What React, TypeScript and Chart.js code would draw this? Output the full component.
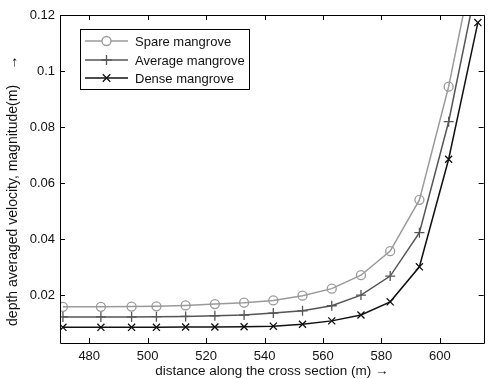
import React, { useEffect, useRef } from "react";
import { Chart, registerables } from "chart.js";

Chart.register(...registerables);

const distances = [471, 484, 494.5, 503, 513, 523, 533, 543, 553, 563, 573, 583, 593, 603, 613];
const spareMangrove = [0.0158, 0.0158, 0.0159, 0.016, 0.0163, 0.0168, 0.0173, 0.0181, 0.0198, 0.0223, 0.0271, 0.0357, 0.054, 0.0944, 0.146];
const averageMangrove = [0.0122, 0.0122, 0.0122, 0.0123, 0.0124, 0.0126, 0.0129, 0.0136, 0.0144, 0.0162, 0.02, 0.0268, 0.0423, 0.0819, 0.133];
const denseMangrove = [0.0085, 0.0085, 0.0085, 0.0085, 0.0086, 0.0086, 0.0087, 0.0089, 0.0096, 0.0108, 0.0129, 0.0176, 0.0301, 0.0685, 0.1173];
const seriesNames = ["Spare mangrove", "Average mangrove", "Dense mangrove"];
const xTicks = [480, 500, 520, 540, 560, 580, 600];
const yTicks = [0.02, 0.04, 0.06, 0.08, 0.1, 0.12];

const FONT = "'Liberation Sans', Arial, sans-serif";

function drawMarker(ctx: CanvasRenderingContext2D, style: string, x: number, y: number, r: number, color: string) {
  ctx.save();
  ctx.strokeStyle = color;
  ctx.lineWidth = 1.3;
  ctx.beginPath();
  if (style === "circle") {
    ctx.fillStyle = "#fff";
    ctx.arc(x, y, r, 0, Math.PI * 2);
    ctx.fill();
  } else if (style === "cross") {
    ctx.moveTo(x - r, y);
    ctx.lineTo(x + r, y);
    ctx.moveTo(x, y - r);
    ctx.lineTo(x, y + r);
  } else {
    const d = r * 0.75;
    ctx.moveTo(x - d, y - d);
    ctx.lineTo(x + d, y + d);
    ctx.moveTo(x + d, y - d);
    ctx.lineTo(x - d, y + d);
  }
  ctx.stroke();
  ctx.restore();
}

const framePlugin = {
  id: "framePlugin",
  afterDraw(chart: any) {
    const { ctx, chartArea } = chart;
    const { left, right, top, bottom } = chartArea;
    const xs = chart.scales.x;
    const ys = chart.scales.y;
    ctx.save();
    ctx.strokeStyle = "#000";
    ctx.lineWidth = 1;
    ctx.beginPath();
    ctx.rect(Math.round(left) + 0.5, Math.round(top) + 0.5, Math.round(right - left), Math.round(bottom - top));
    ctx.stroke();
    const tl = 5;
    ctx.beginPath();
    xTicks.forEach((v) => {
      const px = Math.round(xs.getPixelForValue(v)) + 0.5;
      ctx.moveTo(px, bottom);
      ctx.lineTo(px, bottom - tl);
      ctx.moveTo(px, top);
      ctx.lineTo(px, top + tl);
    });
    yTicks.forEach((v) => {
      const py = Math.round(ys.getPixelForValue(v)) + 0.5;
      ctx.moveTo(left, py);
      ctx.lineTo(left + tl, py);
      ctx.moveTo(right, py);
      ctx.lineTo(right - tl, py);
    });
    ctx.stroke();

    // legend
    const bx = 80.5, by = 29.5, bw = 169, bh = 60;
    ctx.fillStyle = "#fff";
    ctx.fillRect(bx, by, bw, bh);
    ctx.strokeStyle = "#000";
    ctx.lineWidth = 1;
    ctx.strokeRect(bx, by, bw, bh);
    const rows = [41, 60, 78];
    chart.data.datasets.forEach((ds: any, i: number) => {
      const y = rows[i];
      ctx.strokeStyle = ds.borderColor;
      ctx.lineWidth = ds.borderWidth;
      ctx.beginPath();
      ctx.moveTo(85, y);
      ctx.lineTo(128, y);
      ctx.stroke();
      drawMarker(ctx, ds.pointStyle, 106.5, y, ds.pointRadius, ds.borderColor);
      ctx.fillStyle = "#111";
      ctx.font = `13px ${FONT}`;
      ctx.textBaseline = "middle";
      ctx.textAlign = "left";
      ctx.fillText(ds.label, 135, y + 1);
    });
    ctx.restore();
  },
};

export default function App() {
  const ref = useRef<HTMLCanvasElement>(null);
  useEffect(() => {
    document.body.style.margin = "0";
    const mk = (vals: number[]) => distances.map((x, i) => ({ x, y: vals[i] }));
    const chart = new Chart(ref.current!, {
      type: "line",
      data: {
        datasets: [
          {
            label: seriesNames[0],
            data: mk(spareMangrove),
            borderColor: "#9a9a9a",
            borderWidth: 1.5,
            pointStyle: "circle",
            pointRadius: 4.5,
            pointBackgroundColor: "rgba(0,0,0,0)",
            pointBorderColor: "#9a9a9a",
            pointBorderWidth: 1.3,
            tension: 0,
          },
          {
            label: seriesNames[1],
            data: mk(averageMangrove),
            borderColor: "#555555",
            borderWidth: 1.5,
            pointStyle: "cross",
            pointRadius: 5,
            pointBorderColor: "#555555",
            pointBorderWidth: 1.3,
            tension: 0,
          },
          {
            label: seriesNames[2],
            data: mk(denseMangrove),
            borderColor: "#111111",
            borderWidth: 1.5,
            pointStyle: "crossRot",
            pointRadius: 5,
            pointBorderColor: "#111111",
            pointBorderWidth: 1.3,
            tension: 0,
          },
        ],
      },
      options: {
        responsive: false,
        animation: false,
        layout: { padding: { top: 15, right: 2, left: 0, bottom: 0 } },
        plugins: { legend: { display: false }, tooltip: { enabled: false } },
        scales: {
          x: {
            type: "linear",
            min: 470,
            max: 615,
            grid: { display: false, drawTicks: false, tickLength: 0 },
            border: { display: false },
            afterBuildTicks: (s: any) => {
              s.ticks = xTicks.map((v) => ({ value: v }));
            },
            afterFit: (s: any) => {
              s.height = 36;
            },
            ticks: {
              color: "#111",
              font: { family: FONT, size: 13 },
              padding: 6,
              maxRotation: 0,
              callback: (v: any) => String(v),
            },
            title: {
              display: true,
              text: "distance along the cross section (m) \u2192",
              color: "#111",
              font: { family: FONT, size: 13.5 },
              padding: { top: 0, bottom: 0 },
            },
          },
          y: {
            type: "linear",
            min: 0.0029,
            max: 0.12,
            grid: { display: false, drawTicks: false, tickLength: 0 },
            border: { display: false },
            afterBuildTicks: (s: any) => {
              s.ticks = yTicks.map((v) => ({ value: v }));
            },
            afterFit: (s: any) => {
              s.width = 60;
            },
            ticks: {
              color: "#111",
              font: { family: FONT, size: 13 },
              padding: 5,
              callback: (v: any) => String(Math.round(v * 100) / 100),
            },
            title: {
              display: true,
              text: "depth averaged velocity, magnitude(m)    \u2192      ",
              color: "#111",
              font: { family: FONT, size: 14 },
              padding: { top: 5, bottom: 0 },
            },
          },
        },
      },
      plugins: [framePlugin],
    } as any);
    return () => chart.destroy();
  }, []);
  return (
    <div style={{ position: "absolute", left: 0, top: 0, width: 490, height: 379, background: "#fff" }}>
      <canvas ref={ref} width={490} height={379} style={{ display: "block" }} />
    </div>
  );
}
